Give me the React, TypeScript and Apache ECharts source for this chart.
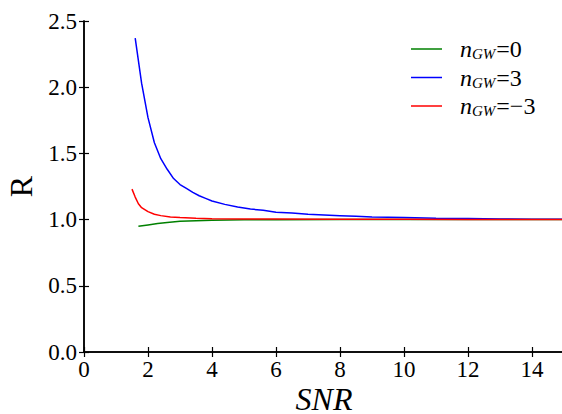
import React, { useEffect, useRef } from "react";
import * as echarts from "echarts";

const xGreen = [1.7, 2.0, 2.3, 2.6, 3.0, 3.5, 4.0, 5.0, 6.0, 8.0, 10, 12, 15];
const yGreen = [0.95, 0.96, 0.97, 0.978, 0.987, 0.992, 0.995, 0.998, 0.999, 1.0, 1.0, 1.0, 1.0];

const xBlue = [1.6, 1.8, 2.0, 2.2, 2.4, 2.6, 2.8, 3.0, 3.2, 3.4, 3.6, 3.8, 4.0, 4.4, 4.8, 5.2, 5.6, 6.0, 6.5, 7.0, 7.5, 8.0, 8.5, 9.0, 10, 11, 12, 13, 14, 15];
const yBlue = [2.37, 2.03, 1.77, 1.58, 1.46, 1.38, 1.31, 1.265, 1.235, 1.205, 1.18, 1.16, 1.14, 1.115, 1.095, 1.08, 1.07, 1.055, 1.05, 1.04, 1.035, 1.03, 1.025, 1.02, 1.015, 1.01, 1.008, 1.005, 1.003, 1.002];

const xRed = [1.5, 1.6, 1.7, 1.8, 2.0, 2.2, 2.4, 2.7, 3.0, 3.5, 4.0, 5.0, 6.0, 8.0, 10, 12, 15];
const yRed = [1.23, 1.17, 1.12, 1.09, 1.06, 1.04, 1.03, 1.02, 1.015, 1.01, 1.007, 1.005, 1.004, 1.003, 1.002, 1.001, 1.0];

const seriesNames = ["n0", "n3", "nm3"];
const seriesLabels: Record<string, string> = { n0: "=0", n3: "=3", nm3: "=\u22123" };
const seriesColors = ["#008000", "#0000ff", "#ff0000"];

const FONT = "'Liberation Serif', 'Times New Roman', serif";

function pairs(xs: number[], ys: number[]) {
  return xs.map((x, i) => [x, ys[i]]);
}

export default function App() {
  const ref = useRef<HTMLDivElement>(null);
  useEffect(() => {
    if (!ref.current) return;
    const chart = echarts.init(ref.current, null, { renderer: "svg" });
    const axisLine = { show: true, lineStyle: { color: "#000", width: 1.5 } };
    const tick = { show: true, inside: true, length: 5, lineStyle: { color: "#000", width: 1.2 } };
    const datas = [pairs(xGreen, yGreen), pairs(xBlue, yBlue), pairs(xRed, yRed)];
    chart.setOption({
      animation: false,
      backgroundColor: "#fff",
      textStyle: { fontFamily: FONT, fontStyle: "normal", fontWeight: "normal" },
      grid: { left: 84, top: 21, width: 480, height: 331, containLabel: false, outerBoundsMode: "none" },
      legend: {
        orient: "vertical",
        left: 406,
        top: 32,
        icon: "rect",
        itemWidth: 31,
        itemHeight: 1.5,
        itemGap: 4,
        data: seriesNames,
        formatter: (name: string) => `{i|n}{s|GW}{r|${seriesLabels[name]}}`,
        textStyle: {
          fontFamily: FONT,
          fontSize: 24,
          color: "#000",
          rich: {
            i: { fontFamily: FONT, fontStyle: "italic", fontSize: 24, padding: [0, 0, 0, 13], color: "#000" },
            s: { fontFamily: FONT, fontStyle: "italic", fontSize: 15, padding: [10, 1, 0, 0], color: "#000" },
            r: { fontFamily: FONT, fontStyle: "normal", fontWeight: "normal", fontSize: 24, color: "#000" },
          },
        },
      },
      xAxis: [
        {
          type: "value",
          min: 0,
          max: 15,
          interval: 2,
          position: "bottom",
          name: "SNR",
          nameLocation: "middle",
          nameGap: 35,
          nameMoveOverlap: false,
          nameTextStyle: { fontFamily: FONT, fontStyle: "italic", fontSize: 32, lineHeight: 24, color: "#000" },
          axisLine,
          axisTick: tick,
          splitLine: { show: false },
          axisLabel: {
            fontFamily: FONT,
            fontStyle: "normal",
            fontWeight: "normal",
            fontSize: 23,
            color: "#000",
            margin: 6,
            showMaxLabel: false,
          },
        },
        {
          type: "value",
          min: 0,
          max: 15,
          interval: 2,
          position: "top",
          axisLine,
          axisTick: tick,
          splitLine: { show: false },
          axisLabel: { show: false },
        },
      ],
      yAxis: [
        {
          type: "value",
          min: 0,
          max: 2.5,
          interval: 0.5,
          position: "left",
          name: "R",
          nameLocation: "middle",
          nameGap: 47,
          nameMoveOverlap: false,
          nameRotate: 90,
          nameTextStyle: { fontFamily: FONT, fontSize: 32, color: "#000" },
          axisLine,
          axisTick: tick,
          splitLine: { show: false },
          axisLabel: {
            fontFamily: FONT,
            fontStyle: "normal",
            fontWeight: "normal",
            fontSize: 23,
            color: "#000",
            margin: 7,
            formatter: (v: number) => v.toFixed(1),
          },
        },
        {
          type: "value",
          min: 0,
          max: 2.5,
          interval: 0.5,
          position: "right",
          axisLine,
          axisTick: tick,
          splitLine: { show: false },
          axisLabel: { show: false },
        },
      ],
      series: seriesNames.map((n, i) => ({
        name: n,
        type: "line",
        data: datas[i],
        showSymbol: false,
        symbol: "none",
        smooth: false,
        lineStyle: { color: seriesColors[i], width: 1.5 },
        itemStyle: { color: seriesColors[i] },
        clip: true,
      })),
    });
    return () => chart.dispose();
  }, []);
  return (
    <div
      ref={ref}
      style={{ position: "absolute", left: 0, top: 0, width: 562, height: 414, background: "#fff" }}
    />
  );
}
